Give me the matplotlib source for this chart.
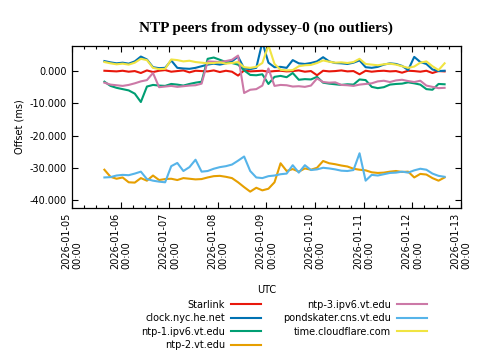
import numpy as np
import pandas as pd
import matplotlib
matplotlib.use("Agg")
import matplotlib.pyplot as plt
import matplotlib.dates as mdates
from matplotlib.ticker import FuncFormatter

# sample times: hours after 2026-01-05 00:00 UTC, every 3 h
hours = list(range(16, 185, 3))

starlink = [0.1, 0.0, -0.1, 0.1, -0.2, 0.0, -0.6, 0.2, -0.3, 0.1, 0.3, -0.2, 0.0, 0.2, -0.4,
            0.1, 0.0, -0.1, 0.2, -0.3, 0.1, -0.2, -1.4, 0.2, -0.1, 0.0, 0.1, -0.2, 0.0, 0.1,
            -0.1, 0.0, 0.2, -0.2, 0.0, -1.3, 0.1, -0.1, 0.0, 0.2, -0.1, 0.0, -1.0, 0.1, -0.2,
            0.0, 0.1, -0.1, 0.0, -0.5, 0.1, 0.0, -0.2, 0.1, -0.6, 0.0, -0.1]
clock_nyc = [3.1, 2.7, 2.4, 2.6, 2.3, 3.0, 4.5, 3.6, 1.2, 0.9, 1.0, 3.3, 1.0, 0.8, 0.7,
             1.0, 1.5, 2.0, 2.3, 2.0, 2.4, 3.0, 4.5, 0.8, 0.6, 1.0, 9.0, 2.6, 1.2, 1.3,
             1.0, 3.4, 2.4, 2.2, 2.5, 3.0, 4.3, 3.0, 2.5, 2.4, 2.2, 2.6, 3.3, 1.2, 1.0,
             1.3, 2.0, 2.4, 2.2, 1.6, 0.3, 4.4, 2.8, 2.2, 0.5, 0.0, 0.1]
ntp1 = [-3.3, -4.6, -5.2, -5.6, -6.0, -7.0, -9.6, -4.8, -4.3, -4.5, -4.6, -4.0, -4.2, -4.5, -4.0,
        -3.6, -3.3, 3.8, 4.2, 3.5, 2.8, 2.5, 2.0, 0.2, -1.2, -1.3, -1.0, -4.0, -1.8, -1.5,
        -1.9, -0.6, -2.7, -2.5, -2.6, -1.8, -3.6, -3.9, -4.1, -4.3, -4.1, -4.2, -2.6, -2.8, -4.9,
        -5.3, -5.0, -4.2, -4.0, -3.9, -3.5, -3.8, -4.2, -5.6, -5.8, -4.0, -4.1]
ntp2 = [-30.6, -32.8, -33.4, -33.0, -34.5, -34.6, -33.2, -34.0, -32.4, -33.8, -33.5, -33.4, -33.8, -33.2, -33.4,
        -33.6, -33.5, -33.0, -32.6, -32.5, -32.8, -33.2, -34.5, -36.0, -37.4, -36.2, -37.0, -36.5, -34.5, -28.6,
        -31.0, -30.4, -31.2, -30.2, -30.6, -30.0, -27.9, -28.6, -28.9, -29.3, -29.6, -30.3, -30.6, -30.8, -31.4,
        -31.6, -31.5, -31.2, -31.0, -31.3, -31.2, -33.0, -31.9, -32.1, -33.2, -34.0, -33.0]
ntp3 = [-3.6, -4.2, -4.4, -4.6, -4.3, -3.8, -3.2, -2.8, -0.6, -5.0, -4.8, -4.6, -4.9, -4.7, -4.5,
        -4.4, -3.9, 3.0, 2.9, 2.8, 3.1, 3.5, 4.8, -6.8, -5.8, -5.6, -4.5, 0.8, -4.6, -4.3,
        -4.4, -4.8, -4.7, -4.9, -4.5, -2.3, -3.4, -3.6, -3.5, -4.3, -4.4, -4.6, -4.2, -4.0, -3.8,
        -3.2, -3.0, -3.4, -2.9, -2.7, -3.1, -3.4, -3.0, -4.5, -4.9, -5.3, -5.2]
pondskater = [-33.0, -32.9, -32.4, -32.2, -32.3, -31.8, -31.2, -33.5, -34.0, -34.3, -34.5, -29.5, -28.5, -31.0, -29.8,
              -27.5, -31.2, -31.0, -30.3, -29.8, -29.5, -29.0, -27.8, -26.5, -31.0, -33.0, -33.2, -32.6, -32.4, -32.0,
              -31.8, -29.2, -31.5, -29.2, -30.7, -30.5, -30.0, -30.2, -30.5, -30.9, -31.0, -30.7, -25.5, -34.0, -32.2,
              -32.4, -32.0, -31.6, -31.5, -31.2, -31.5, -30.8, -30.3, -30.6, -31.8, -32.5, -32.8]
cloudflare = [2.8, 2.4, 2.1, 2.3, 2.0, 2.6, 3.8, 3.4, 1.0, 0.6, 0.7, 3.6, 3.4, 3.0, 3.2,
              2.8, 2.6, 2.4, 2.5, 2.7, 2.3, 2.5, 2.8, 1.2, 1.0, 1.3, 2.5, 8.0, 2.2, 0.4,
              0.2, 0.3, 1.5, 1.8, 1.9, 2.5, 3.3, 2.9, 2.6, 2.7, 2.5, 2.8, 3.8, 2.2, 2.0,
              1.8, 2.1, 2.3, 2.0, 1.5, 1.0, 1.4, 2.6, 3.0, 1.5, 0.3, 2.4]

peers = ["Starlink", "clock.nyc.he.net", "ntp-1.ipv6.vt.edu", "ntp-2.vt.edu",
         "ntp-3.ipv6.vt.edu", "pondskater.cns.vt.edu", "time.cloudflare.com"]
series = [starlink, clock_nyc, ntp1, ntp2, ntp3, pondskater, cloudflare]
colors = ["#e8180c", "#0072b2", "#009e73", "#e69f00", "#cc79a7", "#56b4e9", "#f0e442"]

start = pd.Timestamp("2026-01-05")
times = start + pd.to_timedelta(hours, unit="h")

plt.rcParams["font.family"] = "DejaVu Sans"
plt.rcParams["font.size"] = 7

fig = plt.figure(figsize=(4.8, 3.6), dpi=100)
ax = fig.add_axes([0.15, 0.422, 0.81, 0.450])

for name, vals, c in zip(peers, series, colors):
    ax.plot(times, vals, color=c, lw=1.5, label=name)

ax.set_xlim(start, pd.Timestamp("2026-01-13"))
ax.set_ylim(-42.5, 7.75)
ax.set_yticks([0, -10, -20, -30, -40])
ax.yaxis.set_major_formatter(FuncFormatter(lambda v, p: f"{v:.3f}"))

ax.xaxis.set_major_locator(mdates.DayLocator())
ax.xaxis.set_minor_locator(mdates.HourLocator(byhour=[6, 12, 18]))
ax.xaxis.set_major_formatter(mdates.DateFormatter("%Y-%m-%d\n%H:%M"))
for lbl in ax.get_xticklabels():
    lbl.set_rotation(90)
    lbl.set_ha("center")
    lbl.set_multialignment("left")

ax.tick_params(which="both", direction="in", top=True, right=True, colors="black")
ax.tick_params(which="major", length=4, width=0.8)
ax.tick_params(which="minor", length=2.5, width=0.8)
for s in ax.spines.values():
    s.set_linewidth(0.9)

ax.set_ylabel("Offset (ms)", labelpad=4)
fig.text(0.555, 1 - 290 / 360, "UTC", ha="center", va="center", fontsize=7)

fig.suptitle("NTP peers from odyssey-0 (no outliers)", x=0.555, y=0.94,
             family="Liberation Serif", fontweight="bold", fontsize=11)

fig.legend(loc="upper center", bbox_to_anchor=(0.592, 1 - 291 / 360), ncol=2,
           frameon=False, markerfirst=False, handlelength=3.1, handletextpad=0.6,
           columnspacing=2.3, labelspacing=0.35, fontsize=7)

fig.savefig("out.png", dpi=100)
